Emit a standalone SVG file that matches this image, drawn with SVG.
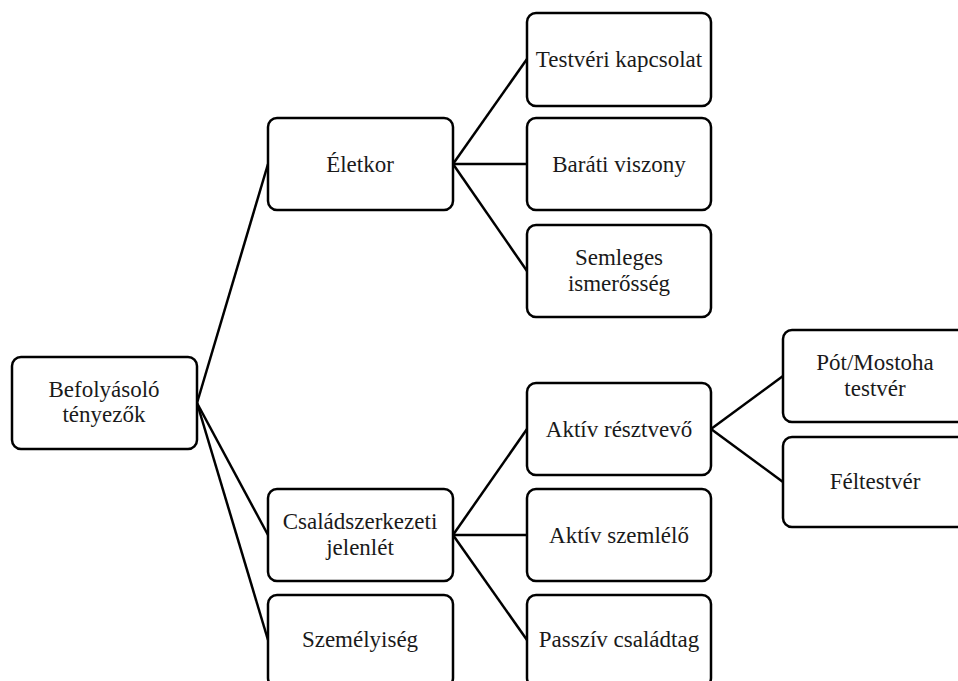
<svg xmlns="http://www.w3.org/2000/svg" width="958" height="681" viewBox="0 0 958 681">
<style>
.box{fill:#fff;stroke:#000;stroke-width:2.5}
.t{font-family:'Liberation Serif','DejaVu Serif',serif;font-size:23px;fill:#1a1a1a;text-anchor:middle}
#connectors line{stroke:#000;stroke-width:2.5}
</style>
<rect width="958" height="681" fill="#fff"/>
<g id="connectors">
<line x1="197" y1="403" x2="268" y2="164"/>
<line x1="197" y1="403" x2="268" y2="535"/>
<line x1="197" y1="403" x2="268" y2="640"/>
<line x1="453" y1="164" x2="527" y2="59"/>
<line x1="453" y1="164" x2="527" y2="164"/>
<line x1="453" y1="164" x2="527" y2="271"/>
<line x1="453" y1="535" x2="527" y2="429"/>
<line x1="453" y1="535" x2="527" y2="535"/>
<line x1="453" y1="535" x2="527" y2="640"/>
<line x1="711" y1="429" x2="783" y2="376"/>
<line x1="711" y1="429" x2="783" y2="482"/>
</g>
<g id="befolyasolo"><rect class="box" x="12" y="357" width="185" height="92" rx="9"/><text class="t" x="104" y="397">Befolyásoló</text><text class="t" x="104" y="422">tényezők</text></g>
<g id="eletkor"><rect class="box" x="268" y="118" width="185" height="92" rx="9"/><text class="t" x="360" y="172">Életkor</text></g>
<g id="csaladszerkezeti"><rect class="box" x="268" y="489" width="185" height="92" rx="9"/><text class="t" x="360" y="529">Családszerkezeti</text><text class="t" x="360" y="555">jelenlét</text></g>
<g id="szemelyiseg"><rect class="box" x="268" y="595" width="185" height="92" rx="9"/><text class="t" x="360" y="647">Személyiség</text></g>
<g id="testveri"><rect class="box" x="527" y="13" width="184" height="93" rx="9"/><text class="t" x="619" y="67">Testvéri kapcsolat</text></g>
<g id="barati"><rect class="box" x="527" y="118" width="184" height="92" rx="9"/><text class="t" x="619" y="172">Baráti viszony</text></g>
<g id="semleges"><rect class="box" x="527" y="225" width="184" height="92" rx="9"/><text class="t" x="619" y="265">Semleges</text><text class="t" x="619" y="291">ismerősség</text></g>
<g id="aktiv-resztvevo"><rect class="box" x="527" y="383" width="184" height="92" rx="9"/><text class="t" x="619" y="437">Aktív résztvevő</text></g>
<g id="aktiv-szemlelo"><rect class="box" x="527" y="489" width="184" height="92" rx="9"/><text class="t" x="619" y="543">Aktív szemlélő</text></g>
<g id="passziv"><rect class="box" x="527" y="595" width="184" height="92" rx="9"/><text class="t" x="619" y="647">Passzív családtag</text></g>
<g id="pot-mostoha"><rect class="box" x="783" y="330" width="185" height="92" rx="9"/><text class="t" x="875" y="370">Pót/Mostoha</text><text class="t" x="875" y="396">testvér</text></g>
<g id="feltestver"><rect class="box" x="783" y="437" width="185" height="90" rx="9"/><text class="t" x="875" y="489">Féltestvér</text></g>
</svg>
